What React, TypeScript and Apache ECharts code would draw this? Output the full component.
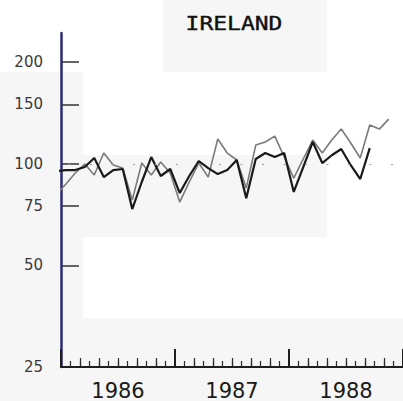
import React, { useEffect, useRef } from "react";
import * as echarts from "echarts";

const monthLabels = [
  "1985-12",
  "1986-01", "1986-02", "1986-03", "1986-04", "1986-05", "1986-06",
  "1986-07", "1986-08", "1986-09", "1986-10", "1986-11", "1986-12",
  "1987-01", "1987-02", "1987-03", "1987-04", "1987-05", "1987-06",
  "1987-07", "1987-08", "1987-09", "1987-10", "1987-11", "1987-12",
  "1988-01", "1988-02", "1988-03", "1988-04", "1988-05", "1988-06",
  "1988-07", "1988-08", "1988-09", "1988-10", "1988-11",
];

const darkValues = [
  95, 95.8, 95.8, 97.8, 104.0, 91.3, 95.8, 96.5, 73.4, 88.3, 104.7, 92.0, 96.5,
  81.9, 92.0, 101.9, 97.1, 93.2, 95.8, 102.6, 79.1, 103.3, 107.6, 104.7, 107.6,
  82.5, 97.8, 116.0, 100.5, 106.0, 110.6, 99.0, 90.1, 111.3,
];

const grayValues = [
  81, 87, 93.9, 99.8, 92.6, 107.6, 99.1, 97.1, 78.1, 100.5, 92.6, 101.2, 93.9,
  77.0, 88.3, 100.5, 91.3, 118.4, 107.6, 102.6, 84.7, 113.6, 116.0, 120.8, 104.7,
  90.7, 103.3, 117.6, 107.6, 117.6, 126.7, 115.2, 104.0, 130.2, 126.7, 135.6,
];

const yLabelValues = [25, 50, 75, 100, 150, 200];
const yTickValues = [50, 75, 100, 150, 200];
const yearLabels = ["1986", "1987", "1988"];
const referenceLevel = 100;
const titleText = "IRELAND";

const BASE_YEAR = 1986;
const toX = (label: string) => {
  const [y, m] = label.split("-").map(Number);
  return (y - BASE_YEAR) * 12 + (m - 1) + 0.5;
};

export default function App() {
  const ref = useRef<HTMLDivElement>(null);
  useEffect(() => {
    document.body.style.margin = "0";
    const chart = echarts.init(ref.current!, null, { renderer: "svg" });
    const dark = darkValues.map((v, i) => [toX(monthLabels[i]), v]);
    const gray = grayValues.map((v, i) => [toX(monthLabels[i]), v]);
    const bg = "#f6f6f6";
    chart.setOption({
      animation: false,
      backgroundColor: "#ffffff",
      grid: { left: 61, right: 0, top: 33, bottom: 33, containLabel: false },
      xAxis: [
        {
          type: "value",
          min: 0,
          max: 36,
          interval: 12,
          axisLine: { show: true, onZero: false, lineStyle: { color: "#1e1e1e", width: 2 } },
          axisTick: { show: true, inside: true, length: 18, lineStyle: { color: "#1e1e1e", width: 2 } },
          minorTick: { show: true, splitNumber: 12, length: 6, lineStyle: { color: "#2a2a2a", width: 1.2 } },
          axisLabel: {
            show: true,
            customValues: yearLabels.map((y) => (Number(y) - BASE_YEAR) * 12 + 6),
            formatter: (v: number) => String(BASE_YEAR + Math.floor(v / 12)),
            fontFamily: "DejaVu Sans",
            fontSize: 21,
            color: "#1a1a1a",
            margin: 13,
          },
          splitLine: { show: false },
          minorSplitLine: { show: false },
        },
        {
          type: "value",
          min: 0,
          max: 36,
          interval: 12,
          position: "bottom",
          axisLine: { show: false, onZero: false },
          axisTick: { show: false, inside: true },
          axisLabel: { show: false },
          minorTick: { show: true, splitNumber: 6, length: 9, lineStyle: { color: "#2a2a2a", width: 1.2 } },
          splitLine: { show: false },
          minorSplitLine: { show: false },
        },
      ],
      yAxis: {
        type: "log",
        logBase: 10,
        min: 25,
        max: 244,
        axisLine: { show: true, onZero: false, lineStyle: { color: "#2d2a78", width: 2.5 } },
        axisTick: {
          show: true,
          inside: true,
          length: 18,
          customValues: yTickValues,
          lineStyle: { color: "#333333", width: 1.5 },
        },
        axisLabel: {
          customValues: yLabelValues,
          formatter: (v: number) => String(Math.round(v)),
          fontFamily: "DejaVu Sans",
          fontSize: 15,
          color: "#3a3a3a",
          margin: 18,
          padding: [0, 0, 8, 0],
        },
        splitLine: { show: false },
        minorTick: { show: false },
        minorSplitLine: { show: false },
      },
      graphic: [
        { type: "rect", z: -10, silent: true, shape: { x: 0, y: 72, width: 83, height: 329 }, style: { fill: bg } },
        { type: "rect", z: -10, silent: true, shape: { x: 83, y: 155, width: 244, height: 82 }, style: { fill: bg } },
        { type: "rect", z: -10, silent: true, shape: { x: 163, y: 0, width: 164, height: 72 }, style: { fill: bg } },
        { type: "rect", z: -10, silent: true, shape: { x: 83, y: 318, width: 320, height: 83 }, style: { fill: bg } },
        {
          type: "text",
          x: 234,
          y: 23,
          scaleX: 1.15,
          style: {
            text: titleText,
            font: "20px 'DejaVu Sans Mono'",
            fill: "#111111",
            stroke: "#111111",
            lineWidth: 0.4,
            textAlign: "center",
            textVerticalAlign: "middle",
          },
        },
      ],
      series: [
        {
          type: "line",
          name: "gray",
          data: gray,
          symbol: "none",
          clip: true,
          z: 2,
          lineStyle: { color: "#7a7a7a", width: 1.6 },
        },
        {
          type: "line",
          name: "dark",
          data: dark,
          symbol: "none",
          clip: true,
          z: 3,
          lineStyle: { color: "#1a1a1a", width: 2.2 },
          markLine: {
            silent: true,
            symbol: "none",
            label: { show: false },
            lineStyle: { color: "#9a9a9a", type: [2, 19.5], dashOffset: 14, width: 1 },
            data: [{ yAxis: referenceLevel }],
          },
        },
      ],
    });
    return () => chart.dispose();
  }, []);
  return <div ref={ref} style={{ width: 403, height: 401 }} />;
}
